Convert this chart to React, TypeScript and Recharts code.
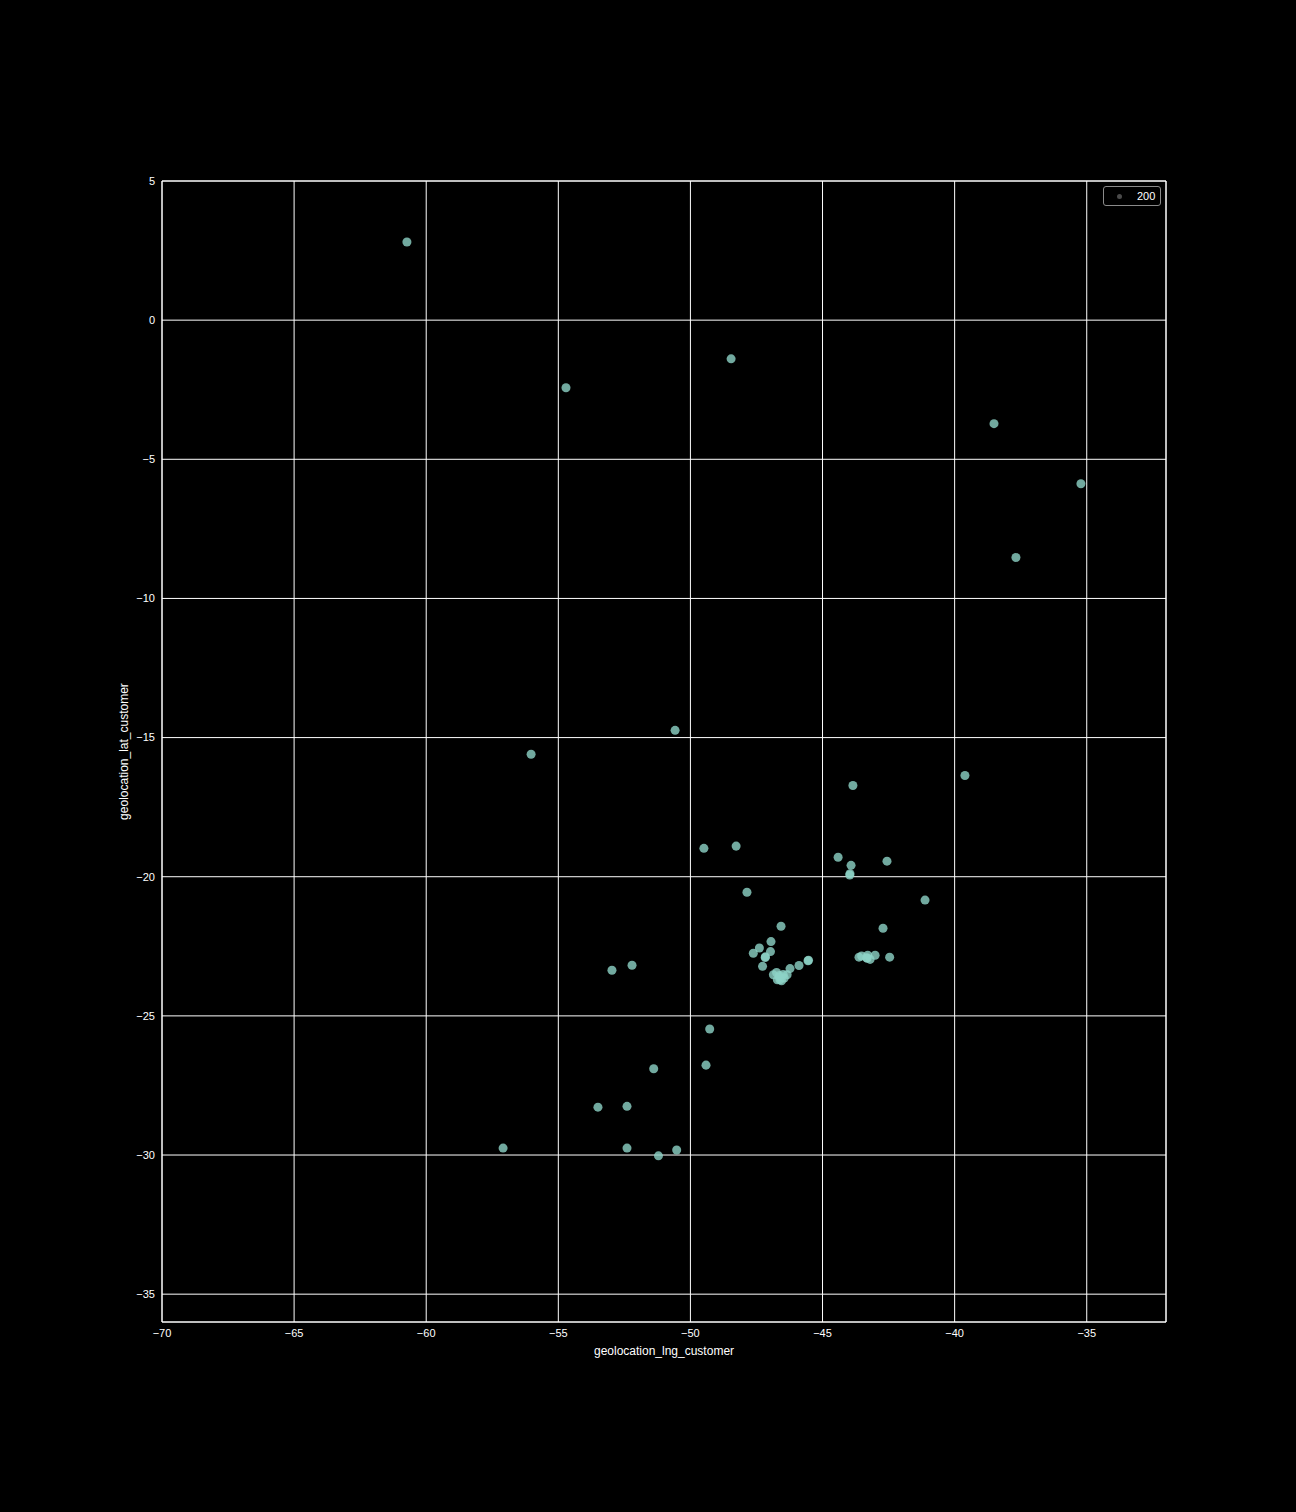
import React from "react";
import {
  ScatterChart,
  Scatter,
  XAxis,
  YAxis,
  ZAxis,
  CartesianGrid,
  ReferenceArea,
  Label,
} from "recharts";

// customer locations
const lngValues = [
  -60.73, -54.71, -48.46, -38.51, -35.22, -37.68, -50.58, -56.03, -39.61, -43.85,
  -49.49, -48.27, -44.41, -43.92, -42.56, -43.96, -43.97, -47.86, -41.12, -46.57,
  -42.71, -46.95, -47.39, -47.62, -46.97, -47.16, -47.17, -47.27, -46.23, -45.89,
  -45.55, -45.53, -46.86, -46.74, -46.64, -46.49, -46.34, -46.61, -46.45, -46.71,
  -46.55, -46.63, -42.46, -43.62, -43.52, -43.33, -43.2, -43.29, -43.01, -43.31,
  -52.97, -52.21, -49.27, -49.41, -51.39, -53.5, -52.4, -52.4, -50.52, -51.21,
  -57.09,
];
const latValues = [
  2.81, -2.43, -1.39, -3.72, -5.88, -8.53, -14.74, -15.6, -16.36, -16.72,
  -18.98, -18.9, -19.3, -19.59, -19.44, -19.89, -19.94, -20.56, -20.84, -21.78,
  -21.85, -22.33, -22.56, -22.75, -22.69, -22.88, -22.9, -23.22, -23.3, -23.19,
  -23.02, -23.0, -23.52, -23.44, -23.6, -23.51, -23.52, -23.7, -23.64, -23.7,
  -23.74, -23.55, -22.89, -22.89, -22.85, -22.91, -22.97, -22.82, -22.82, -22.93,
  -23.36, -23.18, -25.47, -26.77, -26.9, -28.28, -28.25, -29.75, -29.82, -30.03,
  -29.75,
];
const xTicks = [-70, -65, -60, -55, -50, -45, -40, -35];
const yTicks = [-35, -30, -25, -20, -15, -10, -5, 0, 5];
const legendLabel = "200";

const points = lngValues.map((lng, i) => ({ lng, lat: latValues[i] }));

const fmt = (v: number) => String(v).replace("-", "\u2212");
const font = "'Liberation Sans', Arial, sans-serif";

const SizeLegend = () => (
  <div
    style={{
      position: "absolute",
      left: 1103,
      top: 186,
      width: 58,
      height: 20,
      boxSizing: "border-box",
      display: "flex",
      alignItems: "center",
      border: "1px solid #8a8a8a",
      borderRadius: 3,
      paddingLeft: 13,
      color: "#fff",
      fontSize: 11,
      fontFamily: font,
      background: "#000",
    }}
  >
    <span
      style={{
        width: 5,
        height: 5,
        borderRadius: "50%",
        background: "#4a4a4a",
        marginRight: 15,
      }}
    />
    {legendLabel}
  </div>
);

const App = () => {
  return (
    <div
      style={{
        position: "absolute",
        left: 0,
        top: 0,
        width: 1296,
        height: 1512,
        background: "#000",
      }}
    >
      <ScatterChart
        width={1296}
        height={1512}
        margin={{ top: 181, right: 130, bottom: 150, left: 102 }}
        style={{ fontFamily: font }}
      >
        <CartesianGrid stroke="#fff" strokeWidth={1} />
        <XAxis
          type="number"
          dataKey="lng"
          domain={[-70, -32]}
          ticks={xTicks}
          tickFormatter={fmt}
          height={40}
          tickSize={0}
          tickMargin={7}
          axisLine={false}
          tick={{ fill: "#fff", fontSize: 11 }}
        >
          <Label
            content={({ viewBox }: any) => (
              <text
                x={viewBox.x + viewBox.width / 2}
                y={1355}
                textAnchor="middle"
                fill="#fff"
                fontSize={12}
              >
                geolocation_lng_customer
              </text>
            )}
          />
        </XAxis>
        <YAxis
          type="number"
          dataKey="lat"
          domain={[-36, 5]}
          ticks={yTicks}
          tickFormatter={fmt}
          width={60}
          tickSize={0}
          tickMargin={7}
          axisLine={false}
          tick={{ fill: "#fff", fontSize: 11 }}
        >
          <Label
            content={({ viewBox }: any) => {
              const cx = 124;
              const cy = viewBox.y + viewBox.height / 2;
              return (
                <text
                  x={cx}
                  y={cy}
                  textAnchor="middle"
                  dominantBaseline="central"
                  fill="#fff"
                  fontSize={12}
                  transform={`rotate(-90, ${cx}, ${cy})`}
                >
                  geolocation_lat_customer
                </text>
              );
            }}
          />
        </YAxis>
        <ZAxis range={[28, 28]} />
        <ReferenceArea
          x1={-70}
          x2={-32}
          y1={-36}
          y2={5}
          fill="none"
          stroke="#fff"
          strokeWidth={1}
        />
        <Scatter
          data={points}
          fill="#8dd3c7"
          fillOpacity={0.8}
          isAnimationActive={false}
        />
      </ScatterChart>
      <SizeLegend />
    </div>
  );
};

export default App;
